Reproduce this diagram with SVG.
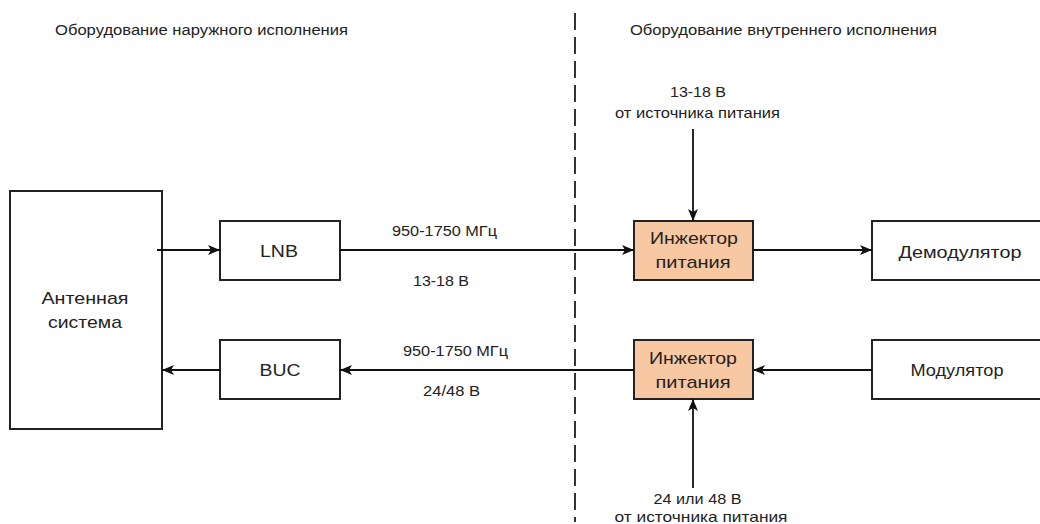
<svg xmlns="http://www.w3.org/2000/svg" width="1040" height="524" viewBox="0 0 1040 524">
<defs>
<style>
.box{fill:#fff;stroke:#222;stroke-width:2}
.inj{fill:#f8c8a2;stroke:#222;stroke-width:2}
text{font-family:"Liberation Sans",Arial,sans-serif;fill:#222;text-anchor:middle}
.n{font-size:17px}
.s{font-size:14.5px}
.h{font-size:14px}
.c{stroke:#111;stroke-width:1.8;fill:none;marker-end:url(#ah)}
</style>
<marker id="ah" viewBox="0 0 12 10" refX="12" refY="5" markerWidth="12" markerHeight="10" markerUnits="userSpaceOnUse" orient="auto">
<path d="M0,0 L12,5 L0,10 L3,5 Z" fill="#111"/>
</marker>
</defs>
<rect width="1040" height="524" fill="#fff"/>
<g id="headers">
<text class="h" x="201.5" y="35" textLength="293" lengthAdjust="spacingAndGlyphs">Оборудование наружного исполнения</text>
<text class="h" x="783.5" y="35" textLength="307" lengthAdjust="spacingAndGlyphs">Оборудование внутреннего исполнения</text>
</g>
<line id="divider" x1="575" y1="13" x2="575" y2="522" stroke="#333" stroke-width="2" stroke-dasharray="17,7"/>
<g id="antenna">
<rect class="box" x="10" y="191" width="152" height="238"/>
<text class="n" x="85" y="304" textLength="87" lengthAdjust="spacingAndGlyphs">Антенная</text>
<text class="n" x="85" y="328" textLength="74" lengthAdjust="spacingAndGlyphs">система</text>
</g>
<g id="lnb">
<rect class="box" x="220" y="221" width="120" height="59"/>
<text class="n" x="279" y="257" textLength="38" lengthAdjust="spacingAndGlyphs">LNB</text>
</g>
<g id="buc">
<rect class="box" x="220" y="340" width="120" height="59"/>
<text class="n" x="280" y="376" textLength="41" lengthAdjust="spacingAndGlyphs">BUC</text>
</g>
<g id="injector-rx">
<rect class="inj" x="634" y="221" width="119" height="59"/>
<text class="n" x="694" y="244" textLength="88" lengthAdjust="spacingAndGlyphs">Инжектор</text>
<text class="n" x="693" y="268" textLength="75" lengthAdjust="spacingAndGlyphs">питания</text>
</g>
<g id="injector-tx">
<rect class="inj" x="634" y="340" width="119" height="59"/>
<text class="n" x="693" y="364" textLength="88" lengthAdjust="spacingAndGlyphs">Инжектор</text>
<text class="n" x="693" y="388" textLength="75" lengthAdjust="spacingAndGlyphs">питания</text>
</g>
<g id="demodulator">
<rect class="box" x="872" y="221" width="175" height="59"/>
<text class="n" x="960" y="258" textLength="123" lengthAdjust="spacingAndGlyphs">Демодулятор</text>
</g>
<g id="modulator">
<rect class="box" x="872" y="340" width="175" height="59"/>
<text class="n" x="957" y="376" textLength="93" lengthAdjust="spacingAndGlyphs">Модулятор</text>
</g>
<g id="connectors">
<line class="c" x1="157" y1="250" x2="220" y2="250"/>
<line class="c" x1="340" y1="250" x2="634" y2="250"/>
<line class="c" x1="753" y1="250" x2="872" y2="250"/>
<line class="c" x1="693" y1="129" x2="693" y2="221"/>
<line class="c" x1="220" y1="370" x2="162" y2="370"/>
<line class="c" x1="634" y1="370" x2="340" y2="370"/>
<line class="c" x1="872" y1="370" x2="753" y2="370"/>
<line class="c" x1="693" y1="488" x2="693" y2="399"/>
</g>
<g id="labels">
<text class="s" x="444.5" y="236" textLength="105" lengthAdjust="spacingAndGlyphs">950-1750 МГц</text>
<text class="s" x="441" y="286" textLength="56" lengthAdjust="spacingAndGlyphs">13-18 В</text>
<text class="s" x="455.5" y="356" textLength="105" lengthAdjust="spacingAndGlyphs">950-1750 МГц</text>
<text class="s" x="451.5" y="396" textLength="57" lengthAdjust="spacingAndGlyphs">24/48 В</text>
<text class="s" x="698" y="97" textLength="56" lengthAdjust="spacingAndGlyphs">13-18 В</text>
<text class="s" x="697.5" y="118" textLength="165" lengthAdjust="spacingAndGlyphs">от источника питания</text>
<text class="s" x="697.5" y="504" textLength="88" lengthAdjust="spacingAndGlyphs">24 или 48 В</text>
<text class="s" x="701" y="522" textLength="173" lengthAdjust="spacingAndGlyphs">от источника питания</text>
</g>
</svg>
